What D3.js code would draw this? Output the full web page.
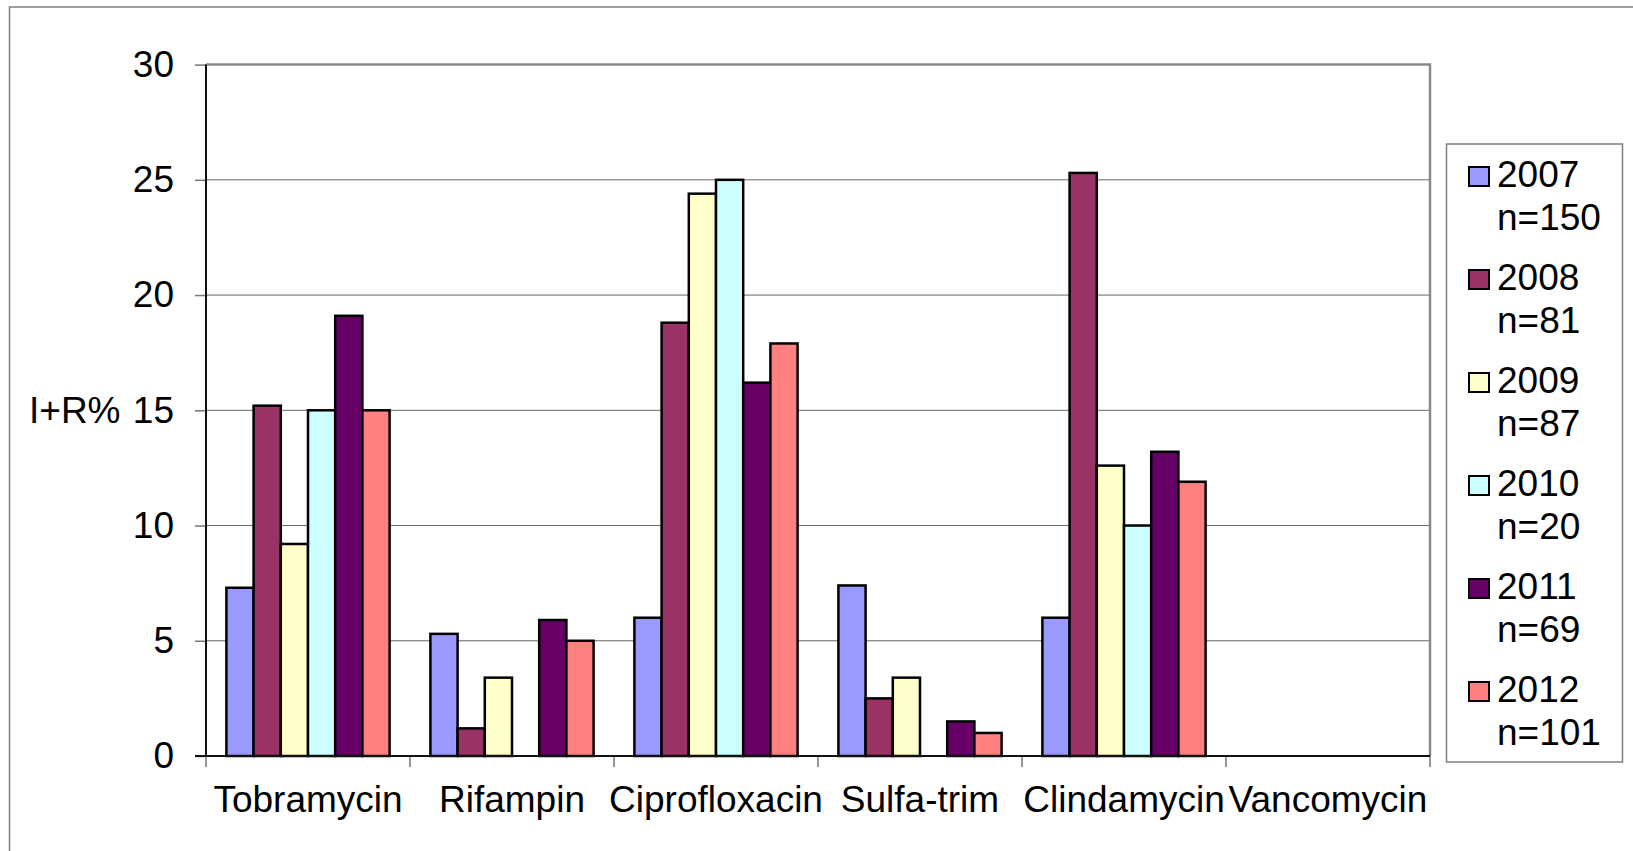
<!DOCTYPE html>
<html>
<head>
<meta charset="utf-8">
<script src="https://cdn.jsdelivr.net/npm/d3@7"></script>
<style>
  body { margin: 0; background: #fff; }
  text { font-family: "Liberation Sans", Arial, sans-serif; fill: #000; }
</style>
</head>
<body>
<div id="container"></div>
<script>
// data
let categories = ["Tobramycin", "Rifampin", "Ciprofloxacin", "Sulfa-trim", "Clindamycin", "Vancomycin"];
let years = ["2007", "2008", "2009", "2010", "2011", "2012"];
let counts = ["n=150", "n=81", "n=87", "n=20", "n=69", "n=101"];
let colors = ["#9999FF", "#993366", "#FFFFCC", "#CCFFFF", "#660066", "#FF8080"];
let v2007 = [7.3, 5.3, 6.0, 7.4, 6.0, 0];
let v2008 = [15.2, 1.2, 18.8, 2.5, 25.3, 0];
let v2009 = [9.2, 3.4, 24.4, 3.4, 12.6, 0];
let v2010 = [15.0, 0, 25.0, 0, 10.0, 0];
let v2011 = [19.1, 5.9, 16.2, 1.5, 13.2, 0];
let v2012 = [15.0, 5.0, 17.9, 1.0, 11.9, 0];
let yTicks = [0, 5, 10, 15, 20, 25, 30];
let yLabel = "I+R%";

let series = [v2007, v2008, v2009, v2010, v2011, v2012];

let w = 1633;
let h = 851;
let plotLeft = 206, plotRight = 1430, plotTop = 64.6, plotBottom = 756;

let viz = d3.select("#container")
  .append("svg")
  .attr("width", w)
  .attr("height", h);

// outer chart border (runs off the right and bottom edges)
viz.append("rect")
  .attr("x", 9.5).attr("y", 7)
  .attr("width", w).attr("height", h)
  .attr("fill", "#fff")
  .attr("stroke", "#808080")
  .attr("stroke-width", 1.5);

let xScale = d3.scaleBand().domain(categories).range([plotLeft, plotRight]);
let xInner = d3.scaleBand().domain(years).range([0, xScale.bandwidth()]).paddingOuter(0.75);
let yScale = d3.scaleLinear().domain([0, 30]).range([plotBottom, plotTop]);

// gridlines
viz.append("g").selectAll("line").data(yTicks.slice(1, -1)).enter()
  .append("line")
  .attr("x1", plotLeft).attr("x2", plotRight)
  .attr("y1", d => yScale(d)).attr("y2", d => yScale(d))
  .attr("stroke", "#666")
  .attr("stroke-width", 1);

// plot area frame, top and right
viz.append("path")
  .attr("d", "M" + plotLeft + "," + plotTop + "H" + plotRight + "V" + plotBottom)
  .attr("fill", "none")
  .attr("stroke", "#888")
  .attr("stroke-width", 2.5);

// bars
let graphGroup = viz.append("g").attr("class", "graphGroup");
series.forEach(function (vals, i) {
  graphGroup.selectAll(".bar" + i).data(vals).enter()
    .append("rect")
    .attr("class", "bar" + i)
    .attr("x", (d, j) => xScale(categories[j]) + xInner(years[i]))
    .attr("width", xInner.bandwidth())
    .attr("y", d => yScale(d))
    .attr("height", d => yScale(0) - yScale(d))
    .attr("fill", colors[i])
    .attr("stroke", "#000")
    .attr("stroke-width", d => d > 0 ? 2.5 : 0);
});

// y axis
let yAxis = d3.axisLeft(yScale).tickValues(yTicks).tickSize(11).tickPadding(21);
let yAxisGroup = viz.append("g")
  .attr("class", "yaxisgroup")
  .attr("transform", "translate(" + plotLeft + ",0)")
  .call(yAxis);
yAxisGroup.select(".domain").remove();
yAxisGroup.selectAll(".tick line").attr("stroke", "#777").attr("stroke-width", 1.5);
yAxisGroup.selectAll("text").attr("font-size", 37).attr("fill", "#000")
  .style("font-family", "'Liberation Sans', Arial, sans-serif");
viz.append("line")
  .attr("x1", plotLeft).attr("x2", plotLeft).attr("y1", plotTop).attr("y2", plotBottom)
  .attr("stroke", "#111").attr("stroke-width", 2);

// x axis
let xAxisGroup = viz.append("g")
  .attr("class", "xaxisgroup")
  .attr("transform", "translate(0," + plotBottom + ")");
xAxisGroup.selectAll("line.tk").data(d3.range(categories.length + 1)).enter()
  .append("line")
  .attr("class", "tk")
  .attr("x1", i => plotLeft + i * xScale.step()).attr("x2", i => plotLeft + i * xScale.step())
  .attr("y1", 0).attr("y2", 11)
  .attr("stroke", "#777").attr("stroke-width", 1.5);
xAxisGroup.append("line")
  .attr("x1", plotLeft - 11).attr("x2", plotRight)
  .attr("stroke", "#111").attr("stroke-width", 2);
xAxisGroup.selectAll("text").data(categories).enter()
  .append("text")
  .attr("x", d => xScale(d) + xScale.bandwidth() / 2)
  .attr("y", 56)
  .attr("text-anchor", "middle")
  .attr("font-size", 37)
  .text(d => d);

// y label
viz.append("text")
  .attr("x", 29)
  .attr("y", yScale(15))
  .attr("dy", "0.35em")
  .attr("font-size", 37)
  .text(yLabel);

// legend
let legend = viz.append("g").attr("class", "legend");
legend.append("rect")
  .attr("x", 1446.5).attr("y", 144)
  .attr("width", 176).attr("height", 618)
  .attr("fill", "#fff")
  .attr("stroke", "#808080")
  .attr("stroke-width", 1.5);
let items = legend.selectAll(".item").data(years).enter()
  .append("g")
  .attr("class", "item")
  .attr("transform", (d, i) => "translate(0," + (187 + i * 103) + ")");
items.append("rect")
  .attr("x", 1469).attr("y", -20)
  .attr("width", 20).attr("height", 19)
  .attr("fill", (d, i) => colors[i])
  .attr("stroke", "#000")
  .attr("stroke-width", 2);
items.append("text")
  .attr("x", 1497).attr("y", 0)
  .attr("font-size", 37)
  .text(d => d);
items.append("text")
  .attr("x", 1497).attr("y", 43)
  .attr("font-size", 37)
  .text((d, i) => counts[i]);
</script>
</body>
</html>
